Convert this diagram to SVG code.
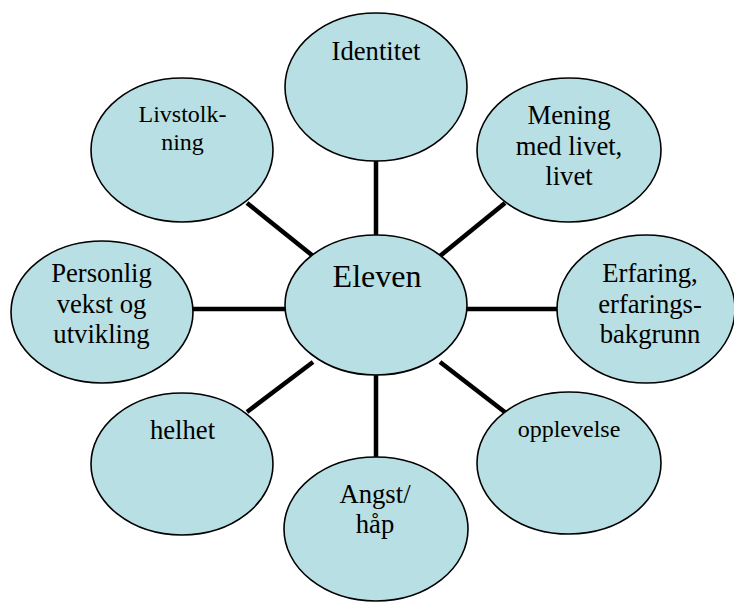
<svg xmlns="http://www.w3.org/2000/svg" width="734" height="602" viewBox="0 0 734 602">
<style>
.n{fill:#b8dfe3;stroke:#000;stroke-width:1.6}
.t{font-family:"Liberation Serif","Times New Roman",serif;fill:#000;text-anchor:middle;font-size:26.67px}
.s{font-size:24px}
.c line{stroke:#000;stroke-width:4.5}
</style>
<rect width="734" height="602" fill="#fff"/>
<g id="connectors" class="c">
<line x1="376" y1="160" x2="376" y2="236"/>
<line x1="247" y1="203" x2="313" y2="256"/>
<line x1="505" y1="203" x2="440" y2="256"/>
<line x1="192" y1="309" x2="285" y2="309"/>
<line x1="466" y1="309" x2="558" y2="309"/>
<line x1="247" y1="412" x2="313" y2="362"/>
<line x1="506" y1="413" x2="440" y2="362"/>
<line x1="376" y1="375" x2="376" y2="458"/>
</g>
<g id="identitet"><ellipse class="n" cx="376" cy="87" rx="91" ry="74"/><text class="t" x="376" y="60">Identitet</text></g>
<g id="livstolkning"><ellipse class="n" cx="182" cy="150" rx="91" ry="72"/><text class="t s" x="182.5" y="122">Livstolk-</text><text class="t s" x="182.5" y="150">ning</text></g>
<g id="mening"><ellipse class="n" cx="569" cy="150" rx="92" ry="72"/><text class="t" x="569" y="124">Mening</text><text class="t" x="569" y="155">med livet,</text><text class="t" x="569" y="185">livet</text></g>
<g id="personlig"><ellipse class="n" cx="102" cy="312" rx="91" ry="71"/><text class="t" x="101.5" y="282">Personlig</text><text class="t" x="101.5" y="313">vekst og</text><text class="t" x="101.5" y="343">utvikling</text></g>
<g id="eleven"><ellipse class="n" cx="376" cy="305" rx="91" ry="70"/><text class="t" style="font-size:32px" x="377" y="287">Eleven</text></g>
<g id="erfaring"><ellipse class="n" cx="646" cy="309" rx="89" ry="74"/><text class="t" x="650" y="282">Erfaring,</text><text class="t" x="650" y="313">erfarings-</text><text class="t" x="650" y="343">bakgrunn</text></g>
<g id="helhet"><ellipse class="n" cx="182" cy="464" rx="91" ry="71"/><text class="t" x="182.5" y="439">helhet</text></g>
<g id="opplevelse"><ellipse class="n" cx="569" cy="463" rx="92" ry="71"/><text class="t s" x="569" y="437">opplevelse</text></g>
<g id="angst"><ellipse class="n" cx="376" cy="529" rx="92" ry="72"/><text class="t" x="375" y="503">Angst/</text><text class="t" x="375" y="533">håp</text></g>
</svg>
